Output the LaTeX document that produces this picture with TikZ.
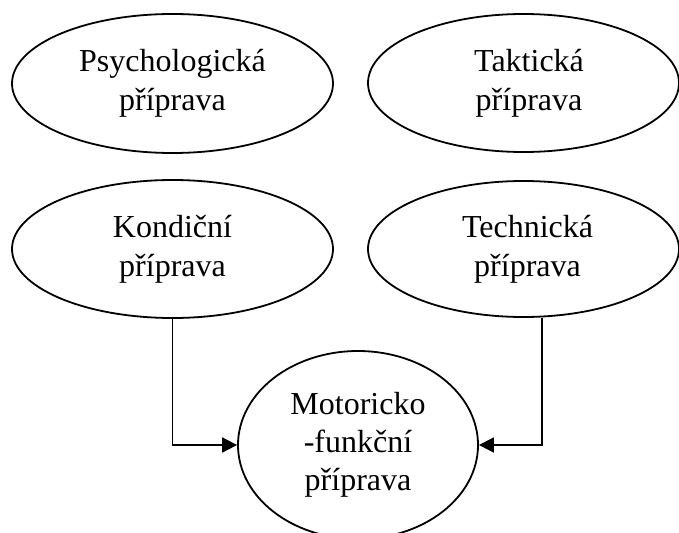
\documentclass[tikz,border=0pt]{standalone}
\usepackage{fontspec}
\setmainfont{Liberation Serif}
\usetikzlibrary{arrows.meta,shapes.geometric}
\begin{document}
\begin{tikzpicture}[x=1pt,y=-1pt,
  txt/.style={align=center,font=\fontsize{32}{39}\selectfont},
  oval/.style={ellipse,draw,line width=1.8pt,inner sep=0pt,txt},
  conn/.style={line width=1.8pt,-{Triangle[length=15pt,width=15pt]}}]
\useasboundingbox (0,0) rectangle (679,532);
\clip (0,0) rectangle (679,532);
\node[oval,minimum width=321pt,minimum height=139pt] (ps) at (172.5,83.5) {Psychologická\\příprava};
\node[oval,minimum width=311pt,minimum height=138pt,
  label={[txt,inner sep=0pt,xshift=5.5pt]center:Taktická\\příprava}] (ta) at (523.5,83) {};
\node[oval,minimum width=321pt,minimum height=138pt] (ko) at (172.5,249) {Kondiční\\příprava};
\node[oval,minimum width=311pt,minimum height=136pt,
  label={[txt,inner sep=0pt,xshift=4pt]center:Technická\\příprava}] (te) at (523.5,249) {};
\node[oval,minimum width=240pt,minimum height=188pt,font=\fontsize{32}{38}\selectfont] (mo) at (358,445) {Motoricko\\-funkční\\příprava};
\draw[conn] (ko.south) |- (mo.west);
\draw[conn] ([xshift=18.5pt]te.south) |- (mo.east);
\end{tikzpicture}
\end{document}
